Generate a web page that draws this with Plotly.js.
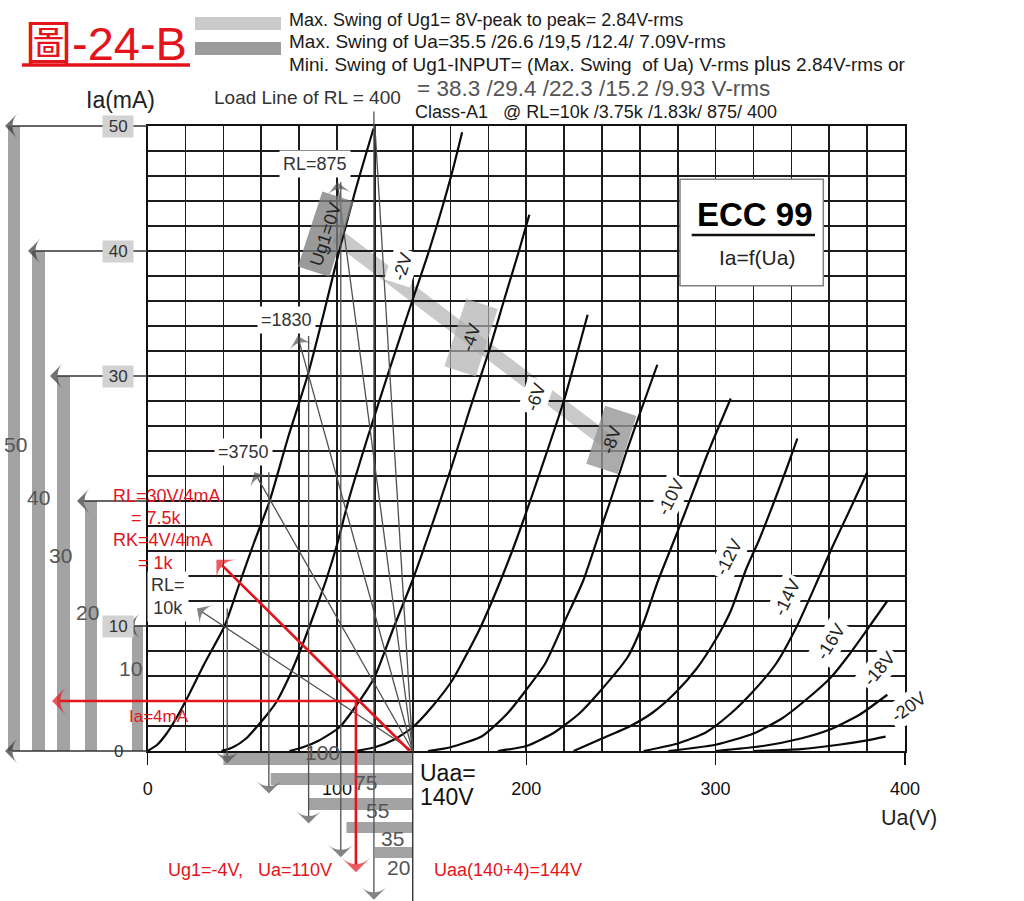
<!DOCTYPE html>
<html><head><meta charset="utf-8">
<script src="https://cdn.plot.ly/plotly-3.0.1.min.js"></script>
<style>html,body{margin:0;padding:0;background:#fff}#chart{width:1024px;height:901px}</style>
</head><body><div id="chart"></div>
<script>
// ================= DATA =================
// ECC99 anode characteristics Ia = f(Ua), one pair of arrays per grid bias
const gridBias = [0, -2, -4, -6, -8, -10, -12, -14, -16, -18, -20];
const ua_0V   = [0, 5, 10, 15, 20.4, 30, 40.6, 48.5, 56, 64.4, 74, 84.6, 93, 101.3, 110, 119.3];
const ia_0V   = [0, 0.5, 1.4, 2.6, 4.1, 7, 10, 13.4, 16.6, 20, 25, 30.1, 35, 40.1, 45, 49.8];
const ua_m2V  = [39, 45, 52, 58, 63, 67.9, 74, 80.2, 87, 94.3, 100, 106, 116, 126.8, 137.5, 148.8, 160.3, 166.1];
const ia_m2V  = [0, 0.3, 1, 2, 2.9, 3.9, 5.7, 7.9, 10.6, 13.7, 16.5, 20, 25, 30.1, 35, 40.1, 46, 49.5];
const ua_m4V  = [74.9, 82, 90, 101.3, 110, 119.8, 129.5, 140, 150, 161.1, 170.5, 180.5, 188.5, 196.3, 201.6];
const ia_m4V  = [0, 0.3, 0.8, 1.9, 3.6, 5.9, 9.7, 13.7, 18, 23, 27.5, 32.1, 36.2, 40.1, 42.9];
const ua_m6V  = [110, 120, 130, 140, 150, 161.1, 168, 175.2, 186.6, 195, 202.5, 207.7, 220, 232.4];
const ia_m6V  = [0, 0.3, 0.9, 1.9, 3.5, 5.7, 7.6, 9.7, 13.7, 17, 20.2, 22.5, 28.1, 34.9];
const ua_m8V  = [148, 160, 176.8, 190, 198, 210, 220, 230, 238.5, 243.5, 252.6, 260, 269.2];
const ia_m8V  = [0, 0.3, 1.2, 3, 4.5, 7, 10.3, 13.6, 17.4, 19.6, 23.8, 27, 30.9];
const ua_m10V = [185, 200, 215, 228, 238.5, 253.5, 262, 269.3, 279, 283.4, 290, 296.6, 308];
const ia_m10V = [0, 0.4, 1.5, 3, 4.7, 7.5, 10.3, 13.5, 17.2, 18.9, 21.5, 24.1, 28.2];
const ua_m12V = [225, 238.5, 255, 267, 279, 290, 300, 308, 316, 323, 331.8, 338, 343.2];
const ia_m12V = [0, 0.9, 2, 3.1, 4.7, 6.6, 8.9, 11.2, 14.5, 16.9, 20.3, 22.8, 25];
const ua_m14V = [262, 280, 295, 308, 319.4, 332, 343, 354.6, 361.6, 370, 380.1];
const ia_m14V = [0, 0.6, 1.5, 3, 4.7, 7, 10, 13.9, 16.3, 19, 22.3];
const ua_m16V = [275, 300, 320, 335, 347, 361, 370, 380, 390.7];
const ia_m16V = [0, 0.5, 1.4, 2.6, 4, 5.9, 7.6, 9.7, 12];
const ua_m18V = [300, 325, 345, 360, 376, 390.7];
const ia_m18V = [0, 0.4, 1, 1.7, 2.9, 4.5];
const ua_m20V = [320, 345, 365, 380, 389.8];
const ia_m20V = [0, 0.15, 0.5, 0.85, 1.15];

// x-axis tick labels
const uaTicks = [0, 100, 200, 300, 400];

// operating data
const Uaa = 140;                                   // supply voltage (V)
const loadR = [10000, 3750, 1830, 875, 400];       // load lines (ohm)
const loadLabels = ['RL=<br>10k', '=3750', '=1830', 'RL=875', 'Load Line of RL = 400'];
const iaSwing = [10, 20, 30, 40, 50];              // max. swing of Ia (mA), same order as loadR
const uaSwing = [100, 75, 55, 35, 20];             // max. swing of Ua (V), same order as loadR
const qUa = 110, qIa = 4, qUg = -4;                // quiescent point

// ================= LAYOUT CONSTANTS (positions only) =================
const FONT = '"Liberation Sans", Arial, "Noto Sans CJK TC", sans-serif';
const X0PX = 147.7, XSC = 1.893, Y0PX = 751, YSC = 12.5;   // pixel mapping of the axes
const pxX = p => (p - X0PX) / XSC;
const pxY = p => (Y0PX - p) / YSC;

const curves = [[ua_0V, ia_0V], [ua_m2V, ia_m2V], [ua_m4V, ia_m4V], [ua_m6V, ia_m6V], [ua_m8V, ia_m8V],
  [ua_m10V, ia_m10V], [ua_m12V, ia_m12V], [ua_m14V, ia_m14V], [ua_m16V, ia_m16V], [ua_m18V, ia_m18V], [ua_m20V, ia_m20V]];

const curveLabelPos = [[93.9, 41.4, -72], [134.6, 38.7, -72], [171, 33.1, -72], [205.1, 28.3, -71], [245.1, 24.85, -72],
  [276.4, 20.3, -63], [307.1, 15.5, -63], [337.9, 12.3, -64], [360.8, 8.7, -58], [386.3, 6.6, -50], [402.1, 3.5, -36]];
const curveLabelBg = ['rgba(125,125,125,0.78)', '#fff', 'rgba(175,175,175,0.7)', '#fff', 'rgba(150,150,150,0.8)',
  '#fff', '#fff', '#fff', '#fff', '#fff', '#fff'];

const labelTipIa = [11.4, 22.3, 33.2, 45.5, 50];          // where the load-line arrows end
const loadLabelPx = [[168, 596], [243.3, 451.7], [286.7, 320], [315, 163.5], [307, 97]];
const swingLineUa = [42, 64, 85, 102, 119.5];              // vertical swing markers
const swingLineTop = [11.4, 22.3, 33.2, 45.5, 51.6];
const swingArrowIa = [-1.0, -3.4, -5.8, -8.5, -11.9];
const bottomBarY = [[-0.16, -1.12], [-1.76, -2.72], [-3.76, -4.72], [-5.68, -6.56], [-7.68, -8.56]];
const leftTipPx = [127, 77, 50, 28, 5];
const leftBarPx = [[132, 143], [85, 97], [57, 70], [32, 45], [8, 20]];
const leftBarLabelPx = [[130, 668], [87, 612], [60, 555], [38, 497], [15, 444]];
const bottomLabelPx = [[322, 752], [365, 782], [377, 810], [392, 838], [398, 867]];

// ================= TRACES =================
const traces = [];
curves.forEach(c => traces.push({
  type: 'scatter', mode: 'lines', x: c[0], y: c[1], xaxis: 'x', yaxis: 'y', hoverinfo: 'skip',
  line: {color: '#0a0a0a', width: 2.2, shape: 'spline', smoothing: 0.6}
}));

function seg(xs, ys, color, width, arrowSize) {
  const t = {type: 'scatter', mode: 'lines', x: xs, y: ys, xaxis: 'x2', yaxis: 'y2', hoverinfo: 'skip',
    line: {color: color, width: width}};
  if (arrowSize) {
    t.mode = 'lines+markers';
    t.marker = {symbol: 'arrow-wide', angleref: 'previous', color: color,
      size: xs.map((_, i) => i === xs.length - 1 ? arrowSize : 0), line: {width: 0}};
  }
  return t;
}

// load lines from Uaa
loadR.forEach((r, i) => {
  const tipI = labelTipIa[i];
  const tipU = Uaa - r * tipI / 1000;
  traces.push(seg([Uaa, tipU], [0, tipI], '#505050', 1.3, r === 400 ? 0 : 17));
});
// vertical swing lines down to the Ua-swing bars
uaSwing.forEach((s, i) => {
  traces.push(seg([swingLineUa[i], swingLineUa[i]], [swingLineTop[i], swingArrowIa[i]], '#505050', 1.3, 18));
});
// horizontal lines to the Ia-swing bars (and the zero line)
iaSwing.forEach((v, i) => {
  traces.push(seg([0, pxX(leftTipPx[i])], [v, v], '#333', 1.6, 18));
});
traces.push(seg([0, pxX(5)], [0, 0], '#333', 1.6, 18));
// Uaa vertical
traces.push(seg([Uaa, Uaa], [0, -12], '#333', 1.4, 0));
// red construction for the quiescent point
const RED = '#e3141b';
traces.push(seg([138.5, 36.3], [0, 15.3], RED, 2.6, 20));
traces.push(seg([qUa, pxX(52)], [qIa, qIa], RED, 2.6, 20));
traces.push(seg([qUa, qUa], [qIa, -9.7], RED, 2.6, 20));

// ================= SHAPES =================
const shapes = [];
// light swing band of Ug1
shapes.push({type: 'line', xref: 'x', yref: 'y', x0: 100, y0: 41.2, x1: 247, y1: 24.3, layer: 'below',
  line: {color: '#c9c9c9', width: 15}});
// ECC 99 box
shapes.push({type: 'rect', xref: 'x', yref: 'y', x0: pxX(680), x1: pxX(823.3), y0: pxY(285.7), y1: pxY(179.3),
  fillcolor: '#fff', line: {color: '#808080', width: 1.5}, layer: 'above'});
shapes.push({type: 'line', xref: 'x', yref: 'y', x0: pxX(691.7), x1: pxX(815), y0: pxY(235), y1: pxY(235),
  line: {color: '#111', width: 2.5}, layer: 'above'});
// bottom Ua-swing bars
uaSwing.forEach((s, i) => shapes.push({type: 'rect', xref: 'x2', yref: 'y2', x0: Uaa - s, x1: Uaa,
  y0: bottomBarY[i][0], y1: bottomBarY[i][1], fillcolor: '#a3a3a3', line: {width: 0}, layer: 'below'}));
// left Ia-swing bars
iaSwing.forEach((v, i) => shapes.push({type: 'rect', xref: 'x2', yref: 'y2', x0: pxX(leftBarPx[i][0]), x1: pxX(leftBarPx[i][1]),
  y0: 0, y1: v, fillcolor: '#a3a3a3', line: {width: 0}, layer: 'below'}));
// title decoration
shapes.push({type: 'line', xref: 'x2', yref: 'y2', x0: pxX(22), x1: pxX(190), y0: pxY(65), y1: pxY(65), line: {color: RED, width: 3.5}});
shapes.push({type: 'rect', xref: 'x2', yref: 'y2', x0: pxX(195), x1: pxX(281), y0: pxY(30), y1: pxY(17), fillcolor: '#cacaca', line: {width: 0}});
shapes.push({type: 'rect', xref: 'x2', yref: 'y2', x0: pxX(195), x1: pxX(281), y0: pxY(55), y1: pxY(42), fillcolor: '#9c9c9c', line: {width: 0}});

// ================= ANNOTATIONS =================
const ann = [];
function T(text, x, y, size, color, o) {
  return Object.assign({text: text, x: x, y: y, xref: 'x2', yref: 'y2', showarrow: false,
    font: {family: FONT, size: size, color: color}}, o || {});
}
const NB = '\u00a0';
// curve labels
gridBias.forEach((g, i) => {
  const p = curveLabelPos[i];
  let txt = i === 0 ? 'Ug1=' + g + 'V' : g + 'V';
  if (i === 2) txt = NB + NB + NB + txt + NB + NB + NB;
  if (i === 4) txt = NB + NB + txt + NB + NB;
  ann.push(T(txt, p[0], p[1], 18, '#222', {textangle: p[2], bgcolor: curveLabelBg[i],
    borderpad: curveLabelBg[i] === '#fff' ? 3 : 6}));
});
// load line labels
loadLabels.forEach((l, i) => ann.push(T(l, pxX(loadLabelPx[i][0]), pxY(loadLabelPx[i][1]), i === 4 ? 19 : 18, '#333',
  {bgcolor: '#fff', borderpad: 3})));
// y tick labels with boxes
[[50, true], [40, true], [30, true], [10, true], [0, false]].forEach(d => ann.push(T(
  d[1] ? NB + d[0] + NB : String(d[0]), pxX(118), d[0], 17, '#333', d[1] ? {bgcolor: '#d2d2d2', borderpad: 1} : {})));
// Ia-swing bar labels
iaSwing.forEach((v, i) => ann.push(T(String(v), pxX(leftBarLabelPx[i][0]), pxY(leftBarLabelPx[i][1]), 21, '#555')));
// Ua-swing bar labels
uaSwing.forEach((s, i) => ann.push(T(String(s), pxX(bottomLabelPx[i][0]), pxY(bottomLabelPx[i][1]), 21, '#555')));
// axis titles and texts
ann.push(T('Ia(mA)', pxX(120), pxY(100), 23, '#222'));
ann.push(T('Ua(V)', pxX(909), pxY(818), 21.5, '#222'));
ann.push(T('Uaa=', pxX(418), pxY(773), 23, '#111', {xanchor: 'left'}));
ann.push(T(Uaa + 'V', pxX(418), pxY(797), 23, '#111', {xanchor: 'left'}));
ann.push(T('ECC 99', pxX(755), pxY(214), 33, '#000', {font: {family: FONT, size: 33, color: '#000', weight: 'bold'}}));
ann.push(T('Ia=f(Ua)', pxX(757), pxY(257), 21, '#222'));
// red notes
ann.push(T('RL=30V/4mA', pxX(167), pxY(496), 18, RED));
ann.push(T('= 7.5k', pxX(156), pxY(518), 18, RED));
ann.push(T('RK=4V/4mA', pxX(163), pxY(540), 18, RED));
ann.push(T('= 1k', pxX(156), pxY(563), 18, RED));
ann.push(T('Ia=' + qIa + 'mA', pxX(158.5), pxY(716.7), 17, RED));
ann.push(T('Ug1=' + qUg + 'V,' + NB + NB + NB + 'Ua=' + qUa + 'V', pxX(250), pxY(870), 18, RED));
ann.push(T('Uaa(140+4)=144V', pxX(507.5), pxY(870), 18, RED));
// header
ann.push(T('圖-24-B', pxX(106), pxY(43), 47, RED));
ann.push(T('Max. Swing of Ug1= 8V-peak to peak= 2.84V-rms', pxX(287), pxY(20), 18, '#1a1a1a', {xanchor: 'left'}));
ann.push(T('Max. Swing of Ua=35.5 /26.6 /19,5 /12.4/ 7.09V-rms', pxX(287), pxY(41.5), 19, '#1a1a1a', {xanchor: 'left'}));
ann.push(T('Mini. Swing of Ug1-INPUT= (Max. Swing' + NB + ' of Ua) V-rms <span style="font-size:20px">plus</span> 2.84V-rms or',
  pxX(287), pxY(63.5), 19, '#1a1a1a', {xanchor: 'left'}));
ann.push(T('= 38.3 /29.4 /22.3 /15.2 /9.93 V-rms', pxX(415), pxY(88.5), 22.5, '#555', {xanchor: 'left'}));
ann.push(T('Class-A1' + NB + NB + ' @ RL=10k /3.75k /1.83k/ 875/ 400', pxX(413), pxY(112), 18, '#1a1a1a', {xanchor: 'left'}));

// ================= LAYOUT =================
const layout = {
  width: 1024, height: 901, margin: {l: 0, r: 0, t: 0, b: 0},
  paper_bgcolor: '#fff', plot_bgcolor: 'rgba(0,0,0,0)', showlegend: false, hovermode: false,
  font: {family: FONT, color: '#111'},
  xaxis: {domain: [X0PX / 1024, (X0PX + 400 * XSC) / 1024], range: [0, 400], anchor: 'y',
    tickvals: uaTicks, ticktext: uaTicks.map(String), ticks: 'outside', ticklen: 12, tickwidth: 1.5, tickcolor: '#111',
    tickfont: {family: FONT, size: 18, color: '#111'}, ticklabelstandoff: 8,
    showgrid: true, gridcolor: '#1c1c1c', gridwidth: 1.6,
    minor: {dtick: 20, tick0: 0, showgrid: true, gridcolor: '#1c1c1c', gridwidth: 1.6, ticks: ''},
    showline: true, mirror: true, linecolor: '#111', linewidth: 2, zeroline: false, fixedrange: true},
  yaxis: {domain: [(901 - Y0PX) / 901, (901 - Y0PX + 50 * YSC) / 901], range: [0, 50], anchor: 'x',
    dtick: 2, tick0: 0, showticklabels: false, ticks: '',
    showgrid: true, gridcolor: '#1c1c1c', gridwidth: 1.6,
    showline: true, mirror: true, linecolor: '#111', linewidth: 2, zeroline: false, fixedrange: true},
  xaxis2: {domain: [0, 1], range: [pxX(0), pxX(1024)], anchor: 'y2', visible: false, fixedrange: true},
  yaxis2: {domain: [0, 1], range: [pxY(901), pxY(0)], anchor: 'x2', visible: false, fixedrange: true},
  shapes: shapes, annotations: ann
};
Plotly.newPlot('chart', traces, layout, {staticPlot: true, displayModeBar: false});
</script>
</body></html>
